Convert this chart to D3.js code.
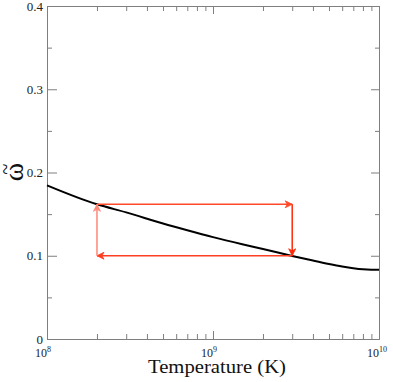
<!DOCTYPE html>
<html>
<head>
<meta charset="utf-8">
<script src="https://cdn.jsdelivr.net/npm/d3@7"></script>
<style>
  body { margin: 0; background: #fff; }
  svg text { font-family: 'Liberation Serif', 'Times New Roman', serif; }
</style>
</head>
<body>
<div id="chart"></div>
<script>
// omega tilde vs temperature
var temps = [1e8, 2e8, 3e8, 5e8, 7e8, 1e9, 1.5e9, 2e9, 3e9, 4e9, 5e9, 6e9, 7e9, 8e9, 9e9, 1e10];
var omega = [0.1846, 0.1618, 0.1521, 0.1387, 0.1306, 0.1224, 0.1139, 0.1082, 0.0998, 0.0942, 0.0901, 0.0871, 0.0850, 0.0837, 0.0832, 0.0831];

// the arrow cycle
var cycleT = [2e8, 3e9, 3e9, 2e8, 2e8];
var cycleW = [0.1618, 0.1618, 0.1, 0.1, 0.1618];
var cycleColors = ["#ff4a2a", "#ff2a0a", "#ff3f22", "#ff8878"];

var xMajor = [1e8, 1e9, 1e10];
var xExp = ["8", "9", "10"];
var xMinor = [2e8, 3e8, 4e8, 5e8, 6e8, 7e8, 8e8, 9e8, 2e9, 3e9, 4e9, 5e9, 6e9, 7e9, 8e9, 9e9];
var yMajor = [0, 0.1, 0.2, 0.3, 0.4];
var yLabels = ["0", "0.1", "0.2", "0.3", "0.4"];
var yMinor = [0.05, 0.15, 0.25, 0.35];

var width = 393, height = 382;
var margin = { left: 47, right: 14, top: 6, bottom: 43 };
var axisColor = "#7f7f7f";

var svg = d3.select("#chart").append("svg")
    .attr("width", width)
    .attr("height", height);

var x = d3.scaleLog()
    .domain([1e8, 1e10])
    .range([margin.left, width - margin.right]);

var y = d3.scaleLinear()
    .domain([0, 0.4])
    .range([height - margin.bottom, margin.top]);

var x0 = x.range()[0], x1 = x.range()[1];
var y0 = y.range()[0], y1 = y.range()[1];

function styleAxis(g) {
    g.selectAll("path, line").attr("stroke", axisColor).attr("stroke-width", 1);
    g.selectAll("text").remove();
}

// ticks pointing inward on all four sides
svg.append("g").attr("transform", "translate(0," + y0 + ")")
    .call(d3.axisBottom(x).tickValues(xMajor).tickSizeInner(-8).tickSizeOuter(0).tickFormat(""))
    .call(styleAxis);
svg.append("g").attr("transform", "translate(0," + y0 + ")")
    .call(d3.axisBottom(x).tickValues(xMinor).tickSizeInner(-5).tickSizeOuter(0).tickFormat(""))
    .call(styleAxis);
svg.append("g").attr("transform", "translate(0," + y1 + ")")
    .call(d3.axisTop(x).tickValues(xMajor).tickSizeInner(-8).tickSizeOuter(0).tickFormat(""))
    .call(styleAxis);
svg.append("g").attr("transform", "translate(0," + y1 + ")")
    .call(d3.axisTop(x).tickValues(xMinor).tickSizeInner(-5).tickSizeOuter(0).tickFormat(""))
    .call(styleAxis);

svg.append("g").attr("transform", "translate(" + x0 + ",0)")
    .call(d3.axisLeft(y).tickValues(yMajor).tickSizeInner(-10).tickSizeOuter(0).tickFormat(""))
    .call(styleAxis);
svg.append("g").attr("transform", "translate(" + x0 + ",0)")
    .call(d3.axisLeft(y).tickValues(yMinor).tickSizeInner(-5).tickSizeOuter(0).tickFormat(""))
    .call(styleAxis);
svg.append("g").attr("transform", "translate(" + x1 + ",0)")
    .call(d3.axisRight(y).tickValues(yMajor).tickSizeInner(-8).tickSizeOuter(0).tickFormat(""))
    .call(styleAxis);
svg.append("g").attr("transform", "translate(" + x1 + ",0)")
    .call(d3.axisRight(y).tickValues(yMinor).tickSizeInner(-4).tickSizeOuter(0).tickFormat(""))
    .call(styleAxis);

// tick labels
svg.append("g").selectAll("text")
    .data(yMajor)
    .enter().append("text")
    .attr("x", x0 - 4)
    .attr("y", function(d) { return y(d) + 4.5; })
    .attr("text-anchor", "end")
    .attr("font-size", 13)
    .attr("fill", "#222")
    .text(function(d, i) { return yLabels[i]; });

var xl = svg.append("g").selectAll("text")
    .data(xMajor)
    .enter().append("text")
    .attr("x", function(d) { return x(d) - 12; })
    .attr("y", y0 + 18)
    .attr("font-size", 12)
    .attr("fill", "#222");
xl.append("tspan").text("10");
xl.append("tspan").attr("dy", -5).attr("font-size", 8).text(function(d, i) { return xExp[i]; });

// axis titles
svg.append("text")
    .attr("x", 148)
    .attr("y", 373)
    .attr("font-size", 19.5)
    .attr("textLength", 138)
    .attr("lengthAdjust", "spacingAndGlyphs")
    .attr("fill", "#111")
    .text("Temperature (K)");

var ylab = svg.append("g").attr("transform", "translate(22.5,172) rotate(-90)");
ylab.append("text")
    .attr("text-anchor", "middle")
    .attr("font-size", 28)
    .attr("fill", "#111")
    .text("ω");
ylab.append("text")
    .attr("x", 3)
    .attr("y", -11)
    .attr("text-anchor", "middle")
    .attr("font-size", 20)
    .attr("fill", "#111")
    .text("~");

// curve
var line = d3.line()
    .x(function(d, i) { return x(temps[i]); })
    .y(function(d) { return y(d); })
    .curve(d3.curveMonotoneX);

svg.append("path")
    .datum(omega)
    .attr("d", line)
    .attr("fill", "none")
    .attr("stroke", "#000")
    .attr("stroke-width", 2);

// arrows
var defs = svg.append("defs");
cycleColors.forEach(function(c, i) {
    defs.append("marker")
        .attr("id", "arrow" + i)
        .attr("viewBox", "-8 -4 9 8")
        .attr("refX", 0)
        .attr("refY", 0)
        .attr("markerWidth", 9)
        .attr("markerHeight", 8)
        .attr("markerUnits", "userSpaceOnUse")
        .attr("orient", "auto")
        .append("path")
        .attr("d", "M0,0 L-7,-3.5 L-5,0 L-7,3.5 Z")
        .attr("fill", c)
        .attr("stroke", c)
        .attr("stroke-width", 0.8);
});

svg.append("g").selectAll("line")
    .data(cycleColors)
    .enter().append("line")
    .attr("x1", function(d, i) { return x(cycleT[i]); })
    .attr("y1", function(d, i) { return y(cycleW[i]); })
    .attr("x2", function(d, i) { return x(cycleT[i + 1]); })
    .attr("y2", function(d, i) { return y(cycleW[i + 1]); })
    .attr("stroke", function(d) { return d; })
    .attr("stroke-width", 1.5)
    .attr("marker-end", function(d, i) { return "url(#arrow" + i + ")"; });
</script>
</body>
</html>
